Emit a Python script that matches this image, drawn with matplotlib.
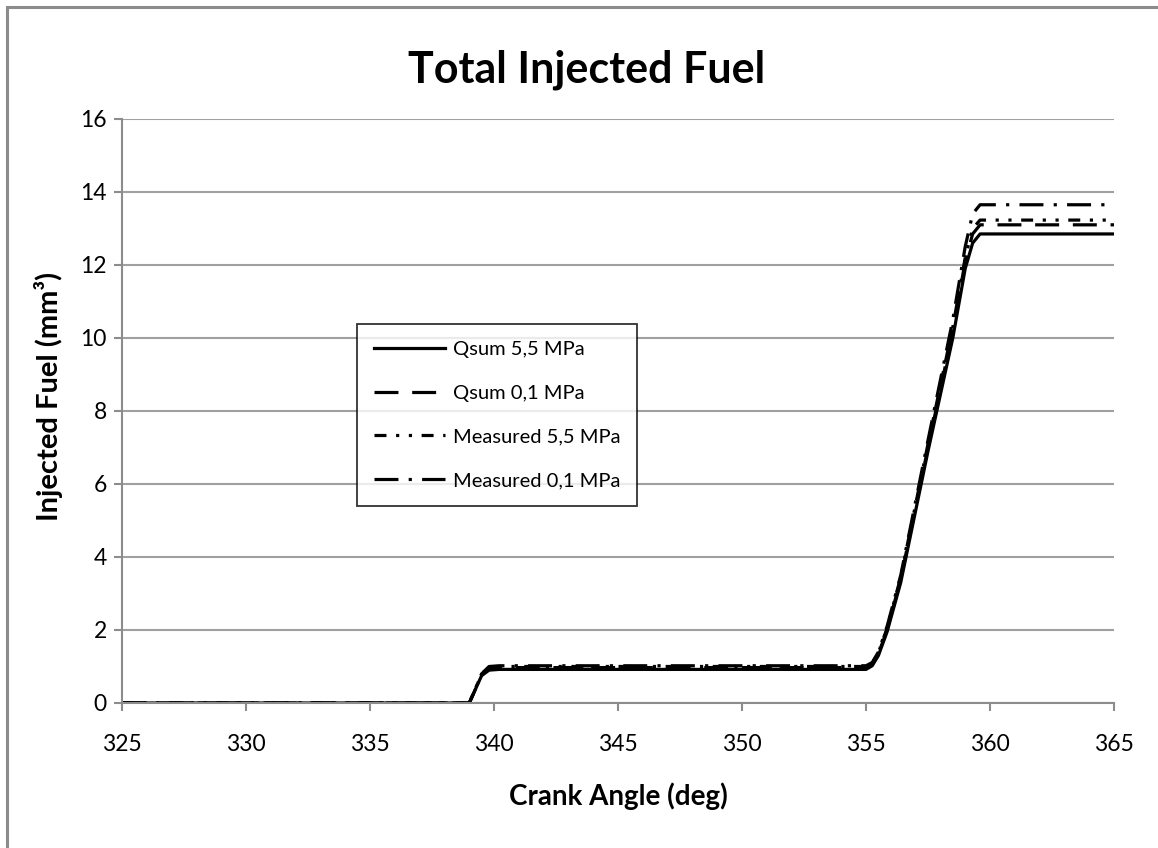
import numpy as np
import matplotlib.pyplot as plt
from matplotlib.patches import Rectangle

plt.rcParams['font.family'] = ['Lato', 'DejaVu Sans']

# crank angle breakpoints (deg)
crank = [325, 339.0, 339.2, 339.5, 339.8, 340.2, 355.0, 355.25, 355.5, 355.85, 356.4,
         357.5, 358.5, 359.0, 359.3, 359.6, 365]

# injected fuel (mm3)
qsum_55 = [0, 0, 0.30, 0.75, 0.90, 0.92, 0.92, 1.02, 1.30, 1.95, 3.30, 6.9, 10.0, 11.9, 12.60, 12.85, 12.85]
qsum_01 = [0, 0, 0.30, 0.78, 0.95, 0.97, 0.97, 1.06, 1.35, 2.00, 3.40, 7.0, 10.2, 12.1, 12.85, 13.10, 13.10]
meas_55 = [0, 0, 0.32, 0.80, 0.98, 1.00, 1.00, 1.09, 1.38, 2.05, 3.45, 7.1, 10.3, 12.2, 13.00, 13.23, 13.23]
meas_01 = [0, 0, 0.30, 0.80, 1.00, 1.02, 1.02, 1.11, 1.40, 2.10, 3.50, 7.2, 10.5, 12.5, 13.40, 13.65, 13.65]

labels = ['Qsum 5,5 MPa', 'Qsum 0,1 MPa', 'Measured 5,5 MPa', 'Measured 0,1 MPa']

fig = plt.figure(figsize=(11.58, 8.48), dpi=100)
ax = fig.add_axes([0.1054, 0.171, 0.8566, 0.6887])

# grey frame around the chart area
fig.patches.append(Rectangle((7/1158, -0.1), 2.0, 1.1 - 7/848,
                             transform=fig.transFigure, fill=False,
                             edgecolor='#8c8c8c', linewidth=2.2))

lw = 2.3
ax.plot(crank, qsum_55, color='black', lw=lw, label=labels[0])
ax.plot(crank, qsum_01, color='black', lw=lw, ls=(0, (7.5, 4.3)), label=labels[1])
ax.plot(crank, meas_55, color='black', lw=lw, ls=(0, (3.75, 3, 1, 3, 1, 3)), label=labels[2])
ax.plot(crank, meas_01, color='black', lw=lw, ls=(0, (7.5, 3.2, 1, 3.2)), label=labels[3])

ax.set_xlim(325, 365)
ax.set_ylim(0, 16)
ax.set_xticks(np.arange(325, 366, 5))
ax.set_yticks(np.arange(0, 17, 2))
ax.yaxis.grid(True, color='#a0a0a0', lw=1.5)
ax.set_axisbelow(True)
for s in ['top', 'right']:
    ax.spines[s].set_visible(False)
for s in ['left', 'bottom']:
    ax.spines[s].set_color('#8c8c8c')
    ax.spines[s].set_linewidth(1.5)
ax.tick_params(colors='#8c8c8c', labelcolor='black', labelsize=16.5,
               length=6, width=1.5, direction='out')
ax.tick_params(axis='x', pad=16)
ax.tick_params(axis='y', pad=5)

fig.text(587/1158, 1 - 70/848, 'Total Injected Fuel', fontsize=31,
         fontweight='bold', ha='center', va='center')
ax.set_xlabel('Crank Angle (deg)', fontsize=20, fontweight='bold', labelpad=20)
ax.set_ylabel('Injected Fuel (mm³)', fontsize=21, fontweight='bold')
ax.yaxis.set_label_coords(-0.06, 0.525)

leg = ax.legend(loc='upper left', bbox_to_anchor=(0.237, 0.649), fontsize=14.5,
                frameon=True, fancybox=False, handlelength=3.5, labelspacing=1.32,
                borderpad=0.85, handletextpad=0.4, borderaxespad=0)
leg.get_frame().set_edgecolor('black')
leg.get_frame().set_linewidth(1.3)

fig.savefig('out.png', dpi=100)
